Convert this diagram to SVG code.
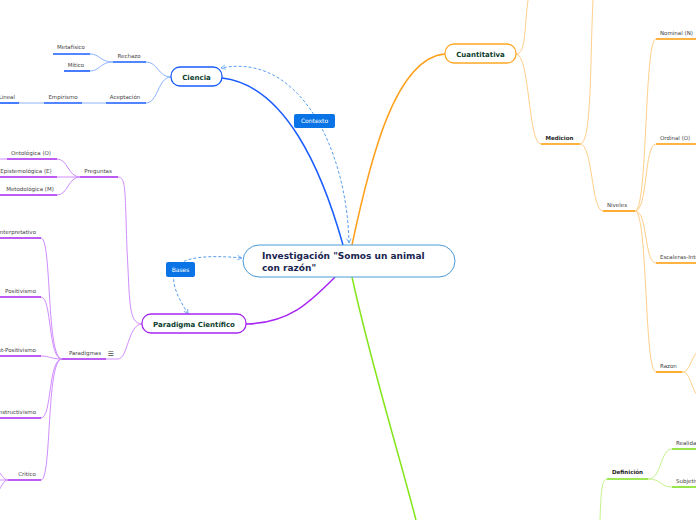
<svg xmlns="http://www.w3.org/2000/svg" width="696" height="520" viewBox="0 0 696 520">
<defs>
<style>
.lbl{font-family:"DejaVu Sans",Verdana,sans-serif;font-size:5.5px;fill:#444}
.lblb{font-family:"DejaVu Sans",Verdana,sans-serif;font-size:5.5px;fill:#222;font-weight:bold}
.main{font-family:"DejaVu Sans",Verdana,sans-serif;font-size:7px;fill:#0b3d2e;font-weight:bold}
.root{font-family:"DejaVu Sans",Verdana,sans-serif;font-size:9px;fill:#1a2550;font-weight:bold}
.tag{font-family:"DejaVu Sans",Verdana,sans-serif;font-size:6px;fill:#fff}
.bl{fill:none;stroke:#8cb2ff;stroke-width:1}
.blu{fill:none;stroke:#1a5cff;stroke-width:1.6}
.pl{fill:none;stroke:#d08cff;stroke-width:1}
.plu{fill:none;stroke:#a726f2;stroke-width:1.6}
.ol{fill:none;stroke:#ffcf8a;stroke-width:1}
.olu{fill:none;stroke:#ff9a00;stroke-width:1.6}
.gl{fill:none;stroke:#c4f28c;stroke-width:1}
.glu{fill:none;stroke:#7ee01f;stroke-width:1.6}
.dash{fill:none;stroke:#5a9ff0;stroke-width:1;stroke-dasharray:3,2}
</style>
<marker id="arr" viewBox="0 0 8 8" refX="7" refY="4" markerWidth="6" markerHeight="6" orient="auto-start-reverse">
<path d="M1,1 L7,4 L1,7" fill="none" stroke="#5a9ff0" stroke-width="1"/>
</marker>
</defs>
<rect width="696" height="520" fill="#fff"/>
<g id="connectors">
<path d="M343,245 C322,170 285,85 222,78" fill="none" stroke="#1a5cff" stroke-width="1.5"/>
<path d="M352,245 C370,160 395,58 445,54" fill="none" stroke="#ff9f1a" stroke-width="1.5"/>
<path d="M335,277 C310,302 290,323 246,324" fill="none" stroke="#a726f2" stroke-width="1.5"/>
<path d="M352,277 C370,360 395,440 416,520" fill="none" stroke="#84e61a" stroke-width="1.5"/>
<path class="dash" d="M349,243 C347,150 300,52 221,68" marker-start="url(#arr)" marker-end="url(#arr)"/>
<path class="dash" d="M188,314 C180,300 170,285 175,270 C180,256 210,255 242,258" marker-start="url(#arr)" marker-end="url(#arr)"/>
<path class="bl" d="M171,77 C158,77 158,62 146,62"/>
<path class="bl" d="M171,77 C158,77 158,103 146,103"/>
<path class="bl" d="M113,62 C100,62 100,54 90,54"/>
<path class="bl" d="M113,62 C100,62 100,71 90,71"/>
<path class="bl" d="M106,103 L82,103 M44,103 L19,103"/>
<path class="pl" d="M142,324 C128,324 130,300 127,250 C125,190 126,177 118,177"/>
<path class="pl" d="M142,324 C128,324 128,359 118,359 L106,359"/>
<path class="pl" d="M80,177 C68,177 68,159 57,159"/>
<path class="pl" d="M80,177 L57,177"/>
<path class="pl" d="M80,177 C68,177 68,195 57,195"/>
<path class="pl" d="M0,159 L7,159"/>
<path class="pl" d="M62,359 C46,359 52,238 41,238"/>
<path class="pl" d="M62,359 C48,359 52,297 41,297"/>
<path class="pl" d="M62,359 C50,359 50,356 41,356"/>
<path class="pl" d="M62,359 C48,359 52,418 41,418"/>
<path class="pl" d="M62,359 C46,359 52,480 41,480"/>
<path class="pl" d="M8,480 C3,480 2,474 -2,471 M8,480 C3,480 2,487 -2,491 M8,480 L0,480"/>
<path class="ol" d="M516,54 C526,54 524,30 528,0"/>
<path class="ol" d="M516,54 C530,54 528,144 541,144"/>
<path class="ol" d="M580,144 C592,144 590,60 593,0"/>
<path class="ol" d="M580,144 C593,144 591,211 603,211"/>
<path class="ol" d="M635,211 C648,211 644,39 656,39"/>
<path class="ol" d="M635,211 C648,211 644,144 656,144"/>
<path class="ol" d="M635,211 C648,211 644,263 656,263"/>
<path class="ol" d="M635,211 C648,211 644,372 656,372"/>
<path class="ol" d="M682,372 C690,372 690,360 697,352 M682,372 C690,372 690,385 697,395"/>
<path class="gl" d="M600,520 C601,490 602,479 607,479"/>
<path class="gl" d="M648,479 C662,479 660,449 672,449"/>
<path class="gl" d="M648,479 C662,479 660,487 672,487"/>
</g>
<g id="root">
<rect x="243" y="245" width="212" height="32" rx="16" fill="#fff" stroke="#4a9ad8" stroke-width="1"/>
<text class="root" x="262" y="259">Investigación "Somos un animal</text>
<text class="root" x="262" y="271">con razón"</text>
</g>
<g id="ciencia">
<rect x="171" y="67" width="51" height="19" rx="9" fill="#fff" stroke="#1a5cff" stroke-width="1.3"/>
<text class="main" x="196.5" y="79.5" text-anchor="middle">Ciencia</text>
</g>
<g id="cuantitativa">
<rect x="445" y="44" width="71" height="19" rx="9" fill="#fff" stroke="#ffa726" stroke-width="1.3"/>
<text class="main" x="480.5" y="56.5" text-anchor="middle">Cuantitativa</text>
</g>
<g id="paradigma">
<rect x="142" y="314" width="104" height="19" rx="9" fill="#fff" stroke="#a726f2" stroke-width="1.3"/>
<text class="main" x="194" y="326.5" text-anchor="middle">Paradigma Científico</text>
</g>
<g id="contexto">
<rect x="294" y="114" width="41" height="14" rx="2" fill="#0a74e6"/>
<text class="tag" x="314.5" y="123.3" text-anchor="middle">Contexto</text>
</g>
<g id="bases">
<rect x="166" y="262" width="29" height="15" rx="2" fill="#0a74e6"/>
<text class="tag" x="180.5" y="271.8" text-anchor="middle">Bases</text>
</g>
<g id="rechazo"><path class="blu" d="M113,62 H146"/><text class="lbl" x="129" y="58" text-anchor="middle">Rechazo</text></g>
<g id="metafisico"><path class="blu" d="M53,54 H90"/><text class="lbl" x="71" y="49" text-anchor="middle">Metafísico</text></g>
<g id="mitico"><path class="blu" d="M64,71 H90"/><text class="lbl" x="76" y="67" text-anchor="middle">Mítico</text></g>
<g id="aceptacion"><path class="blu" d="M106,103 H146"/><text class="lbl" x="125" y="99" text-anchor="middle">Aceptación</text></g>
<g id="empirismo"><path class="blu" d="M44,103 H82"/><text class="lbl" x="63" y="99" text-anchor="middle">Empirismo</text></g>
<g id="lineal"><path class="blu" d="M-2,103 H19"/><text class="lbl" x="15" y="99" text-anchor="end">Lineal</text></g>
<g id="preguntas"><path class="plu" d="M80,177 H118"/><text class="lbl" x="98" y="173" text-anchor="middle">Preguntas</text></g>
<g id="ontologica"><path class="plu" d="M7,159 H57"/><text class="lbl" x="31" y="155" text-anchor="middle">Ontológica (O)</text></g>
<g id="epistemologica"><path class="plu" d="M-2,177 H57"/><text class="lbl" x="26" y="173" text-anchor="middle">Epistemológica (E)</text></g>
<g id="metodologica"><path class="plu" d="M-2,195 H57"/><text class="lbl" x="30" y="191" text-anchor="middle">Metodológica (M)</text></g>
<g id="paradigmas"><path class="plu" d="M62,359 H106"/><text class="lbl" x="85" y="355" text-anchor="middle">Paradigmas</text><text class="lbl" x="111" y="355.5" text-anchor="middle" style="font-size:7px;fill:#444">☰</text></g>
<g id="interpretativo"><path class="plu" d="M-2,238 H41"/><text class="lbl" x="36" y="234" text-anchor="end">Interpretativo</text></g>
<g id="positivismo"><path class="plu" d="M-2,297 H41"/><text class="lbl" x="36" y="293" text-anchor="end">Positivismo</text></g>
<g id="postpositivismo"><path class="plu" d="M-2,356 H41"/><text class="lbl" x="36" y="352" text-anchor="end">Post-Positivismo</text></g>
<g id="constructivismo"><path class="plu" d="M-2,418 H41"/><text class="lbl" x="36" y="414" text-anchor="end">Constructivismo</text></g>
<g id="critico"><path class="plu" d="M8,480 H41"/><text class="lbl" x="27" y="476" text-anchor="middle">Critico</text></g>
<g id="medicion"><path class="olu" d="M541,144 H580"/><text class="lblb" x="559.5" y="140" text-anchor="middle">Medicion</text></g>
<g id="niveles"><path class="olu" d="M603,211 H635"/><text class="lbl" x="617" y="207" text-anchor="middle">Niveles</text></g>
<g id="nominal"><path class="olu" d="M656,39 H698"/><text class="lbl" x="660" y="35">Nominal (N)</text></g>
<g id="ordinal"><path class="olu" d="M656,144 H698"/><text class="lbl" x="660" y="140">Ordinal (O)</text></g>
<g id="escaleras"><path class="olu" d="M656,263 H698"/><text class="lbl" x="660" y="259">Escaleras-Intervalos</text></g>
<g id="razon"><path class="olu" d="M656,372 H682"/><text class="lbl" x="660" y="368">Razon</text></g>
<g id="definicion"><path class="glu" d="M607,479 H648"/><text class="lblb" x="627.5" y="474" text-anchor="middle">Definición</text></g>
<g id="realidad"><path class="glu" d="M672,449 H698"/><text class="lbl" x="676" y="445">Realidad</text></g>
<g id="subjetividad"><path class="glu" d="M672,487 H698"/><text class="lbl" x="676" y="483">Subjetividad</text></g>
</svg>
